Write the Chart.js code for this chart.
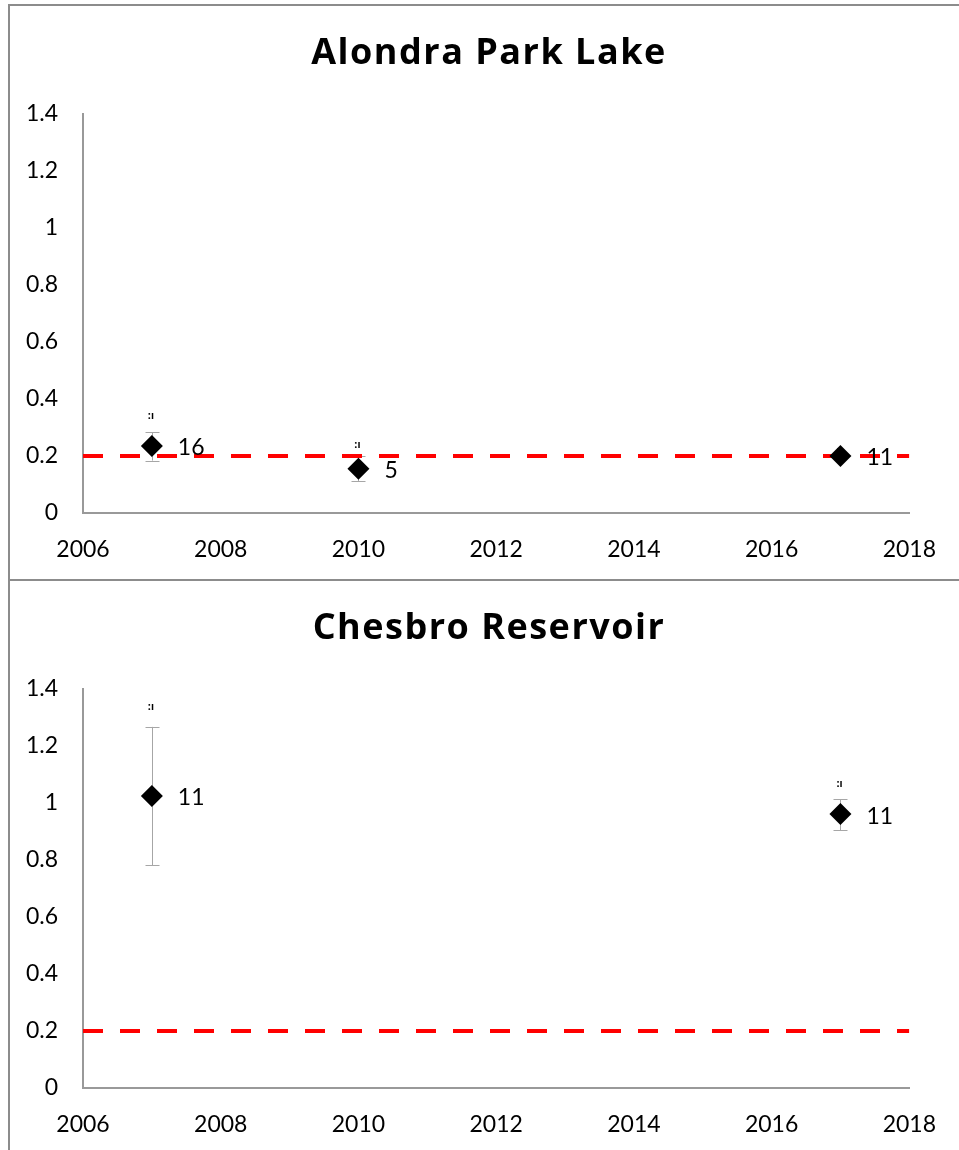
<!DOCTYPE html>
<html>
<head>
<meta charset="utf-8">
<script src="https://cdn.jsdelivr.net/npm/chart.js@4.4.1/dist/chart.umd.min.js"></script>
<style>
  html, body { margin: 0; padding: 0; background: #fff; width: 959px; height: 1150px; overflow: hidden; }
  .frame { position: absolute; box-sizing: border-box; border-color: #8c8c8c; border-style: solid; }
  canvas { position: absolute; left: 0; }
</style>
</head>
<body>
<div class="frame" style="left:8px; top:4px; width:1000px; height:577px; border-width:2px 0 2px 2px;"></div>
<div class="frame" style="left:8px; top:581px; width:1000px; height:600px; border-width:0 0 0 2px;"></div>
<canvas id="c1" width="959" height="580" style="top:0px;"></canvas>
<canvas id="c2" width="959" height="580" style="top:575px;"></canvas>
<script>
// ---- data ----
const xTickLabels = ['2006', '2008', '2010', '2012', '2014', '2016', '2018'];
const yTickLabels = ['0', '0.2', '0.4', '0.6', '0.8', '1', '1.2', '1.4'];
const thresholdYears = [2006, 2018];
const thresholdValues = [0.2, 0.2];

const alondraTitle = 'Alondra Park Lake';
const alondraYears = [2007, 2010, 2017];
const alondraMeans = [0.235, 0.155, 0.200];
const alondraHigh = [0.283, 0.200, 0.206];
const alondraLow = [0.184, 0.112, 0.194];
const alondraCounts = ['16', '5', '11'];
const alondraMarks = [0.345, 0.240, 0.222];

const chesbroTitle = 'Chesbro Reservoir';
const chesbroYears = [2007, 2017];
const chesbroMeans = [1.025, 0.961];
const chesbroHigh = [1.267, 1.014];
const chesbroLow = [0.782, 0.905];
const chesbroCounts = ['11', '11'];
const chesbroMarks = [1.34, 1.07];

const FONT = 'Lato';
const TITLE_FONT = '"Open Sans"';

const titlePlugin = {
  id: 'centerTitle',
  afterDraw(chart, args, opts) {
    const {ctx} = chart;
    ctx.save();
    ctx.fillStyle = '#000';
    ctx.font = 'bold 36px ' + TITLE_FONT;
    if ('letterSpacing' in ctx) ctx.letterSpacing = '1.5px';
    ctx.textAlign = 'center';
    ctx.textBaseline = 'alphabetic';
    ctx.fillText(opts.text, 489, 64);
    ctx.restore();
  }
};

const errorBarPlugin = {
  id: 'errorBars',
  beforeDatasetsDraw(chart, args, opts) {
    const {ctx, scales: {x, y}} = chart;
    ctx.save();
    ctx.strokeStyle = '#a6a6a6';
    ctx.lineWidth = 1;
    opts.years.forEach((yr, i) => {
      const px = Math.round(x.getPixelForValue(yr)) + 0.5;
      const top = y.getPixelForValue(opts.high[i]);
      const bot = y.getPixelForValue(opts.low[i]);
      ctx.beginPath();
      ctx.moveTo(px, top); ctx.lineTo(px, bot);
      ctx.moveTo(px - 7, Math.round(top) + 0.5); ctx.lineTo(px + 7, Math.round(top) + 0.5);
      ctx.moveTo(px - 7, Math.round(bot) + 0.5); ctx.lineTo(px + 7, Math.round(bot) + 0.5);
      ctx.stroke();
    });
    ctx.restore();
  },
  afterDatasetsDraw(chart, args, opts) {
    const {ctx, scales: {x, y}} = chart;
    ctx.save();
    ctx.fillStyle = '#000';
    ctx.textAlign = 'left';
    ctx.textBaseline = 'middle';
    ctx.font = '23px ' + FONT;
    opts.years.forEach((yr, i) => {
      const px = x.getPixelForValue(yr);
      const py = y.getPixelForValue(opts.means[i]);
      ctx.fillText(opts.counts[i], px + 26, py + 2);
    });
    ctx.font = 'bold 12px ' + FONT;
    ctx.textAlign = 'center';
    opts.years.forEach((yr, i) => {
      const px = x.getPixelForValue(yr);
      const py = y.getPixelForValue(opts.marks[i]);
      ctx.fillText(':\u0131', px - 1, py);
    });
    ctx.restore();
  }
};

function makeChart(id, title, years, means, high, low, counts, marks) {
  return new Chart(document.getElementById(id), {
    type: 'scatter',
    data: {
      datasets: [
        {
          data: years.map((yr, i) => ({x: yr, y: means[i]})),
          pointStyle: 'rectRot',
          pointRadius: 11,
          pointHoverRadius: 11,
          backgroundColor: '#000',
          borderColor: '#000',
          borderWidth: 0,
          showLine: false
        },
        {
          type: 'line',
          data: thresholdYears.map((yr, i) => ({x: yr, y: thresholdValues[i]})),
          borderColor: '#ff0000',
          borderWidth: 4,
          borderDash: [20, 17],
          borderCapStyle: 'butt',
          pointRadius: 0,
          fill: false
        }
      ]
    },
    options: {
      responsive: false,
      animation: false,
      devicePixelRatio: 1,
      events: [],
      layout: { padding: { left: 0, right: 48, top: 114, bottom: 0 } },
      plugins: {
        legend: { display: false },
        tooltip: { enabled: false },
        title: { display: false },
        centerTitle: { text: title },
        errorBars: { years, means, high, low, counts, marks }
      },
      scales: {
        x: {
          type: 'linear',
          min: 2006, max: 2018,
          afterBuildTicks: (s) => { s.ticks = xTickLabels.map(v => ({value: Number(v)})); },
          afterFit: (s) => { s.height = 67; },
          grid: { display: false, drawTicks: false },
          border: { display: true, color: '#999999', width: 2 },
          ticks: {
            color: '#000',
            font: { family: FONT, size: 23 },
            padding: 23,
            maxRotation: 0,
            autoSkip: false,
            callback: (v, i) => xTickLabels[i]
          }
        },
        y: {
          type: 'linear',
          min: 0, max: 1.4,
          afterBuildTicks: (s) => { s.ticks = yTickLabels.map(v => ({value: Number(v)})); },
          afterFit: (s) => { s.width = 83; },
          grid: { display: false, drawTicks: false },
          border: { display: true, color: '#999999', width: 2 },
          ticks: {
            color: '#000',
            font: { family: FONT, size: 23 },
            padding: 25,
            autoSkip: false,
            callback: (v, i) => yTickLabels[i]
          }
        }
      }
    },
    plugins: [errorBarPlugin, titlePlugin]
  });
}

makeChart('c1', alondraTitle, alondraYears, alondraMeans, alondraHigh, alondraLow, alondraCounts, alondraMarks);
makeChart('c2', chesbroTitle, chesbroYears, chesbroMeans, chesbroHigh, chesbroLow, chesbroCounts, chesbroMarks);
</script>
</body>
</html>
